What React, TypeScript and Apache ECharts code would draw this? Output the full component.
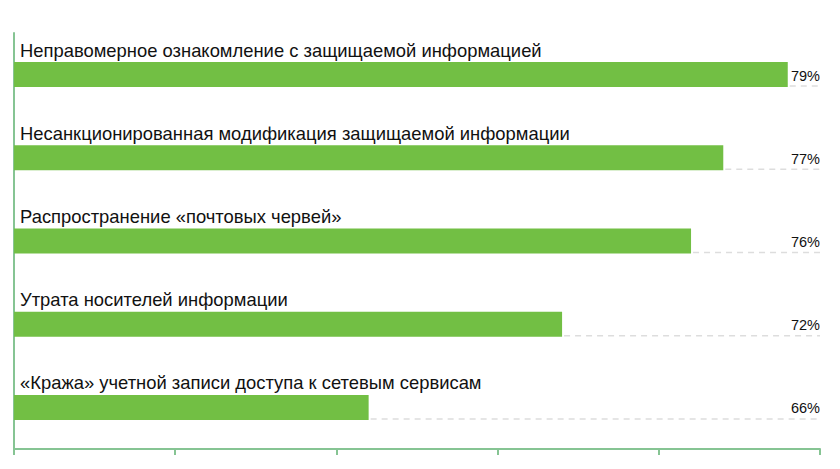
import React, { useEffect, useRef } from "react";
import * as echarts from "echarts";

const categories = [
  "Неправомерное ознакомление с защищаемой информацией",
  "Несанкционированная модификация защищаемой информации",
  "Распространение «почтовых червей»",
  "Утрата носителей информации",
  "«Кража» учетной записи доступа к сетевым сервисам",
];
const values = [79, 77, 76, 72, 66];
const axisMin = 55;
const axisMax = 80;
const axisStep = 5;

const BAR_COLOR = "#72bf44";
const AXIS_COLOR = "#86c493";
const FONT = "'Liberation Sans', Arial, Helvetica, sans-serif";

export default function App() {
  const ref = useRef<HTMLDivElement>(null);
  useEffect(() => {
    if (!ref.current) return;
    const chart = echarts.init(ref.current, undefined, { renderer: "svg" });
    const barWidth = 25;
    chart.setOption({
      animation: false,
      backgroundColor: "#ffffff",
      grid: { left: 14, right: 20, top: 33, bottom: 20, containLabel: false },
      xAxis: {
        type: "value",
        min: axisMin,
        max: axisMax,
        interval: axisStep,
        axisLine: { show: true, lineStyle: { color: AXIS_COLOR, width: 2 } },
        axisTick: { show: true, length: 6, lineStyle: { color: AXIS_COLOR, width: 2 } },
        axisLabel: { show: false },
        splitLine: { show: false },
      },
      yAxis: {
        type: "category",
        data: categories,
        inverse: true,
        axisLine: { show: true, lineStyle: { color: AXIS_COLOR, width: 2 } },
        axisTick: { show: false },
        axisLabel: { show: false },
        splitLine: { show: false },
      },
      series: [
        {
          type: "bar",
          data: values,
          barWidth,
          itemStyle: { color: BAR_COLOR },
          label: {
            show: true,
            formatter: "{b}",
            position: [6, -3],
            align: "left",
            verticalAlign: "bottom",
            color: "#111",
            fontSize: 18.4,
            fontFamily: FONT,
          },
          z: 2,
        },
        {
          type: "custom",
          data: values.map((v, i) => [v, i]),
          encode: { x: 0, y: 1 },
          z: 3,
          renderItem: (params: any, api: any) => {
            const v = api.value(0);
            const idx = api.value(1);
            const start = api.coord([v, idx]);
            const end = api.coord([axisMax, idx]);
            const yLine = start[1] + barWidth / 2 - 1;
            return {
              type: "group",
              children: [
                {
                  type: "line",
                  shape: { x1: start[0] + 2, y1: yLine, x2: end[0], y2: yLine },
                  style: { stroke: "#dddddd", lineWidth: 1.5, lineDash: [6, 5] },
                },
                {
                  type: "text",
                  x: end[0],
                  y: start[1] + 1,
                  style: {
                    text: v + "%",
                    align: "right",
                    verticalAlign: "middle",
                    fill: "#111",
                    fontSize: 14.5,
                    fontFamily: FONT,
                    backgroundColor: "#ffffff",
                    padding: [0, 0, 0, 3],
                  },
                },
              ],
            };
          },
        },
      ],
    });
    return () => chart.dispose();
  }, []);
  return (
    <div
      ref={ref}
      style={{ position: "fixed", left: 0, top: 0, width: 840, height: 469 }}
    />
  );
}
